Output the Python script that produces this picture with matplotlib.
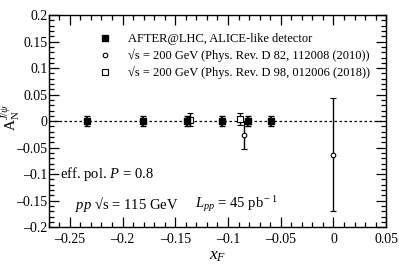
import numpy as np
import matplotlib
matplotlib.use('Agg')
import matplotlib.pyplot as plt
from matplotlib.ticker import MultipleLocator, FuncFormatter

plt.rcParams['font.family'] = ['Liberation Serif', 'DejaVu Serif']
plt.rcParams['mathtext.fontset'] = 'custom'
plt.rcParams['mathtext.rm'] = 'Liberation Serif'
plt.rcParams['mathtext.it'] = 'Liberation Serif:italic'

# AFTER@LHC projections
after_x = [-0.234, -0.181, -0.139, -0.106, -0.081, -0.059]
after_y = [0.0, 0.0, 0.0, 0.0, 0.0, 0.0]
after_err = [0.010, 0.010, 0.010, 0.010, 0.010, 0.010]

# PHENIX 2010
phx10_x = [-0.085, 0.0]
phx10_y = [-0.026, -0.063]
phx10_err = [0.027, 0.107]

# PHENIX 2018
phx18_x = [-0.136, -0.089]
phx18_y = [0.003, 0.004]
phx18_err = [0.012, 0.011]

labels = ['AFTER@LHC, ALICE-like detector',
          '\u221as = 200 GeV (Phys. Rev. D 82, 112008 (2010))',
          '\u221as = 200 GeV (Phys. Rev. D 98, 012006 (2018))']

fig = plt.figure(figsize=(3.99, 2.71), dpi=100)
ax = fig.add_axes([0.122, 0.162, 0.846, 0.782])

ax.axhline(0, color='black', ls=(0, (2, 2)), lw=0.9, zorder=1)

e1 = ax.errorbar(after_x, after_y, yerr=after_err, fmt='s', color='black', ms=3.8,
                 capsize=2.2, elinewidth=1.3, capthick=1.0, zorder=4)
e2 = ax.errorbar(phx10_x, phx10_y, yerr=phx10_err, fmt='o', color='black', mfc='white',
                 ms=3.3, mew=0.8, capsize=2.2, elinewidth=1.0, capthick=1.0, zorder=3)
e3 = ax.errorbar(phx18_x, phx18_y, yerr=phx18_err, fmt='s', color='black', mfc='white',
                 ms=3.8, mew=0.8, capsize=2.2, elinewidth=1.0, capthick=1.0, zorder=3)

ax.set_xlim(-0.27, 0.05)
ax.set_ylim(-0.2, 0.2)
ax.xaxis.set_major_locator(MultipleLocator(0.05))
ax.xaxis.set_minor_locator(MultipleLocator(0.01))
ax.yaxis.set_major_locator(MultipleLocator(0.05))
ax.yaxis.set_minor_locator(MultipleLocator(0.01))

def fmt(v, pos):
    if abs(v) < 1e-9:
        return '0'
    s = ('%.2f' % v).rstrip('0').rstrip('.')
    return s.replace('-', '\u2013')

ax.xaxis.set_major_formatter(FuncFormatter(fmt))
ax.yaxis.set_major_formatter(FuncFormatter(fmt))
ax.tick_params(which='both', direction='in', top=True, right=True, labelsize=10, width=0.9)
ax.tick_params(which='major', length=7)
ax.tick_params(which='minor', length=3.5)
ax.tick_params(axis='x', pad=4)
ax.tick_params(axis='y', pad=1)
for s in ax.spines.values():
    s.set_linewidth(1.0)

ax.set_xlabel('$x_F$', fontsize=12.5)
ax.xaxis.set_label_coords(0.5, -0.1)
ax.set_ylabel('$\\mathrm{A}_{\\mathrm{N}}^{J/\\psi}$', fontsize=11)
ax.yaxis.set_label_coords(-0.078, 0.52)

ax.legend([e1[0], e2[0], e3[0]], labels, loc='upper left',
          bbox_to_anchor=(0.135, 0.94), frameon=False,
          fontsize=9, handlelength=1.0, handletextpad=1.3,
          labelspacing=0.3, borderaxespad=0)

ax.text(-0.2595, -0.1, 'eff. pol. $P$ = 0.8', fontsize=10.5, va='center')
ax.text(-0.2455, -0.157, '$pp$ \u221as = 115 GeV', fontsize=10.5, va='center')
ax.text(-0.1315, -0.157, '$L_{pp}$ = 45 pb$^{\\rm -1}$', fontsize=10.5, va='center')

fig.savefig('out.png', dpi=100)
